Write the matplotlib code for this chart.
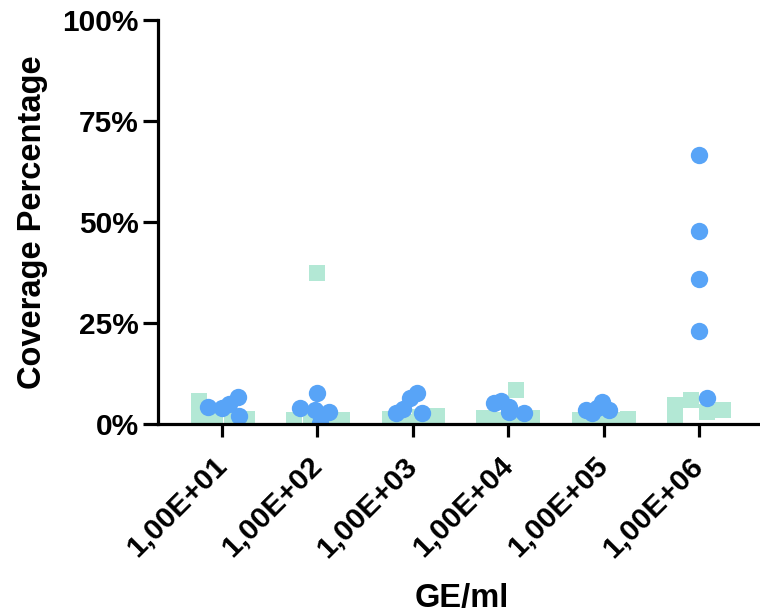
import matplotlib
matplotlib.use("Agg")
import matplotlib.pyplot as plt
import numpy as np
from matplotlib.ticker import FuncFormatter

categories = ["1,00E+01", "1,00E+02", "1,00E+03", "1,00E+04", "1,00E+05", "1,00E+06"]

# circle series (values in %), with horizontal scatter offsets in category units
circle_vals = [
    [4.2, 4.0, 5.0, 6.7, 2.0],
    [3.9, 7.6, 3.5, 3.0, 0.3],
    [2.7, 3.7, 6.4, 7.6, 2.7],
    [5.1, 5.7, 4.3, 3.0, 2.6],
    [3.5, 2.7, 5.5, 3.5, 4.0],
    [66.6, 47.8, 35.9, 23.1, 6.5],
]
circle_dx = [
    [-0.15, 0.0, 0.07, 0.17, 0.18],
    [-0.18, 0.0, -0.02, 0.12, 0.03],
    [-0.17, -0.10, -0.03, 0.04, 0.10],
    [-0.15, -0.07, 0.01, 0.01, 0.17],
    [-0.18, -0.12, -0.02, 0.06, -0.07],
    [0.0, 0.0, 0.0, 0.0, 0.08],
]

# square series
square_vals = [
    [5.6, 1.7, 1.0, 1.0, 1.2],
    [1.0, 0.8, 37.4, 1.0, 1.0],
    [1.2, 0.6, 1.7, 2.0, 0.5],
    [8.5, 1.5, 1.0, 1.5, 1.5],
    [1.0, 0.5, 1.0, 1.2, 0.3],
    [4.7, 0.7, 6.0, 3.0, 3.5],
]
square_dx = [
    [-0.24, -0.24, -0.07, 0.11, 0.26],
    [-0.24, -0.07, 0.0, 0.09, 0.26],
    [-0.24, -0.07, 0.08, 0.25, 0.10],
    [0.08, -0.25, -0.09, 0.08, 0.25],
    [-0.25, -0.08, 0.09, 0.26, 0.0],
    [-0.25, -0.25, -0.08, 0.08, 0.25],
]

FONT = "Liberation Sans"
plt.rcParams["font.family"] = [FONT, "DejaVu Sans"]
plt.rcParams["font.weight"] = "bold"

fig = plt.figure(figsize=(7.6, 6.13), dpi=100)
ax = fig.add_axes([158 / 760, 1 - 424 / 613, 1 - 158 / 760 + 0.01, (424 - 20) / 613])

sq_color = "#b3e8d5"
ci_color = "#58a4f7"

for i in range(len(categories)):
    xs = [i + d for d in square_dx[i]]
    ax.plot(xs, square_vals[i], linestyle="none", marker="s", markersize=12.2,
            color=sq_color, markeredgewidth=0, zorder=2, clip_on=True)
for i in range(len(categories)):
    xs = [i + d for d in circle_dx[i]]
    ax.plot(xs, circle_vals[i], linestyle="none", marker="o", markersize=12.5,
            color=ci_color, markeredgewidth=0, zorder=3, clip_on=True)

ax.set_xlim(-0.67, 5.72)
ax.set_ylim(0, 100)
ax.set_yticks([0, 25, 50, 75, 100])
ax.yaxis.set_major_formatter(FuncFormatter(lambda v, p: f"{int(v)}%"))
ax.set_xticks(range(len(categories)))
ax.set_xticklabels(categories, rotation=45, ha="right", va="center",
                   rotation_mode="anchor")

for s in ["top", "right"]:
    ax.spines[s].set_visible(False)
for s in ["left", "bottom"]:
    ax.spines[s].set_linewidth(2.3)
    ax.spines[s].set_zorder(4)

ax.tick_params(axis="y", length=11, width=2.3, labelsize=21.5, pad=3)
ax.tick_params(axis="x", length=9, width=2.3, labelsize=21.5, pad=18)
for lab in ax.get_xticklabels() + ax.get_yticklabels():
    lab.set_fontweight("bold")

ax.set_ylabel("Coverage Percentage", fontsize=23.5, fontweight="bold", labelpad=10)
fig.text(462 / 760, 1 - 598 / 613, "GE/ml", fontsize=23.5, fontweight="bold",
         ha="center", va="center")

fig.savefig("out.png", dpi=100)
